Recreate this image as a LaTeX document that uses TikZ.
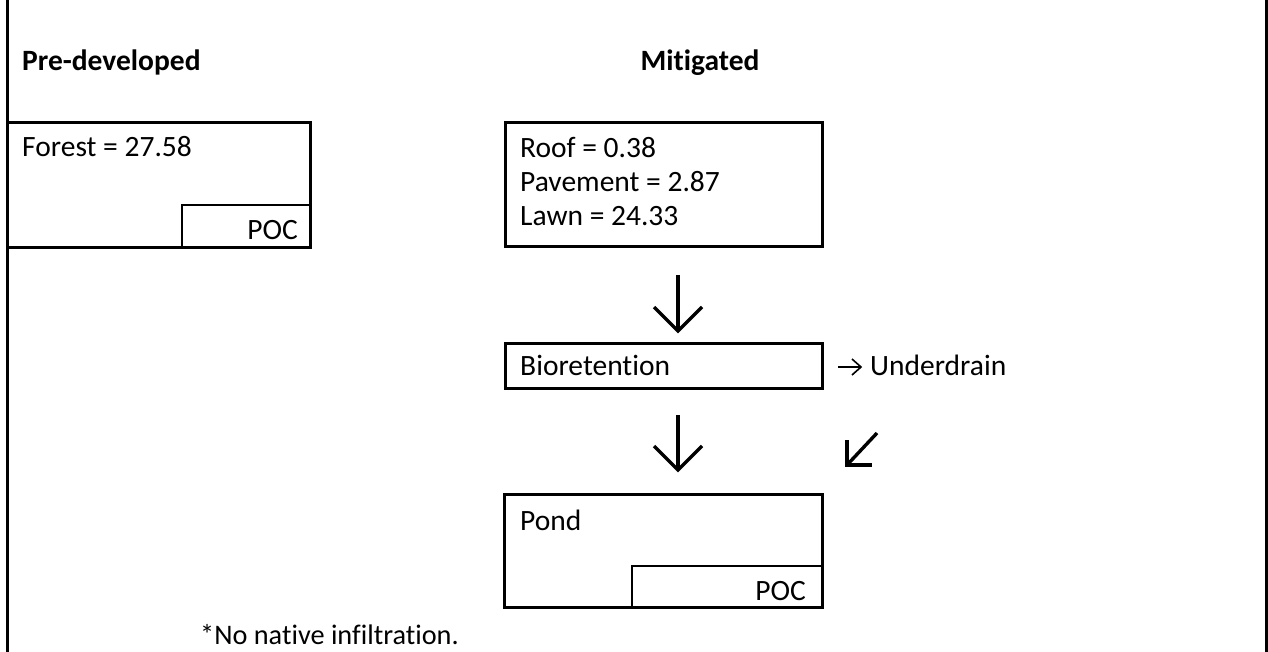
\documentclass[tikz,border=0pt]{standalone}
\usepackage{fontspec}
\setmainfont{Carlito}[Ligatures={NoCommon}]
\begin{document}
\begin{tikzpicture}[x=1pt,y=-1pt,
  box/.style={draw, line width=3pt, rectangle, inner sep=0pt, outer sep=0pt, anchor=north west},
  pocbox/.style={draw, line width=2pt, rectangle, inner sep=0pt, outer sep=0pt, anchor=north west},
  txt/.style={inner sep=0pt, anchor=base west, font=\fontsize{29.5}{35}\selectfont},
  head/.style={inner sep=0pt, anchor=base, font=\fontsize{29.5}{35}\selectfont\bfseries},
  arr/.style={line width=3.4pt}]
\useasboundingbox (0,0) rectangle (1268,652);
% frame
\coordinate (fl1) at (7.5,0); \coordinate (fl2) at (7.5,652);
\coordinate (fr1) at (1266,0); \coordinate (fr2) at (1266,652);
\draw[line width=3pt] (fl1) -- (fl2);
\draw[line width=3pt] (fr1) -- (fr2);
% headings
\node[txt, font=\fontsize{29.5}{35}\selectfont\bfseries] (hpre) at (22,71) {Pre-developed};
\node[head] (hmit) at (700,71) {Mitigated};
% forest box
\node[box, minimum width=302.5, minimum height=125] (forest) at (7.5,123) {};
\node[pocbox, minimum width=128, minimum height=43] (poc1) at (182,205) {};
\node[txt] (ftxt) at (22,157) {Forest = 27.58};
\node[txt, anchor=base east] (poc1t) at (298,240) {POC};
% mitigated box
\node[box, minimum width=317, minimum height=124] (mit) at (505,123) {};
\node[txt] (roof) at (520,158) {Roof = 0.38};
\node[txt] (pave) at (520,192) {Pavement = 2.87};
\node[txt] (lawn) at (520,226) {Lawn = 24.33};
% bioretention
\node[box, minimum width=317, minimum height=45] (bio) at (505,343) {};
\node[txt] (biot) at (520,375) {Bioretention};
\node[txt] (under) at (870,375) {Underdrain};
% pond
\node[box, minimum width=318, minimum height=113] (pond) at (504,494) {};
\node[pocbox, minimum width=190, minimum height=41] (poc2) at (632,566) {};
\node[txt] (pondt) at (520,530) {Pond};
\node[txt, anchor=base east] (poc2t) at (806,600) {POC};
\node[txt, font=\fontsize{28.3}{34}\selectfont] (note) at (200,644) {*No native infiltration.};
% arrows
\coordinate (a1s) at (678,275); \coordinate (a1e) at (678,331);
\coordinate (a1l) at (654,307); \coordinate (a1r) at (702,307);
\draw[arr] (a1s) -- (a1e);
\draw[arr, line join=miter] (a1l) -- (a1e) -- (a1r);
\coordinate (a2s) at (678,415); \coordinate (a2e) at (678,470);
\coordinate (a2l) at (654,446); \coordinate (a2r) at (702,446);
\draw[arr] (a2s) -- (a2e);
\draw[arr, line join=miter] (a2l) -- (a2e) -- (a2r);
% underdrain small arrow
\coordinate (u1) at (838,367); \coordinate (u2) at (861,367);
\coordinate (u3) at (852,359); \coordinate (u4) at (852,375);
\draw[line width=1.6pt] (u1) -- (u2);
\draw[line width=1.6pt] (u3) -- (u2) -- (u4);
% diagonal arrow
\coordinate (d1) at (877,433); \coordinate (d2) at (847,465);
\coordinate (d3) at (847,440); \coordinate (d4) at (872,465);
\draw[arr] (d1) -- (d2);
\draw[arr, line join=miter] (d3) -- (d2) -- (d4);
\end{tikzpicture}
\end{document}
